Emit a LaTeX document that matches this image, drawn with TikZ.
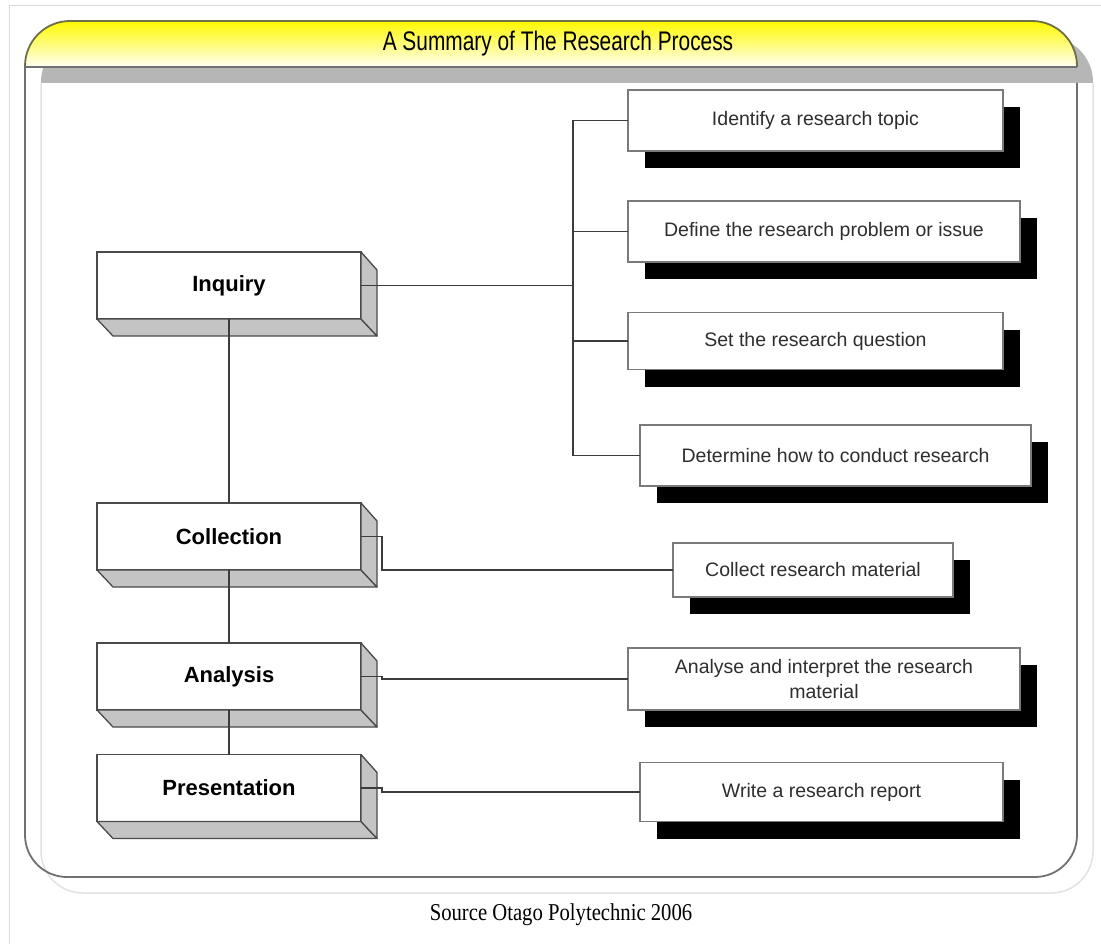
\documentclass[tikz,border=0pt]{standalone}
\usepackage{fontspec}
\setmainfont{Liberation Sans}
\newfontfamily\capfont{Liberation Serif}
\usetikzlibrary{shadows,calc}
\definecolor{boxline}{HTML}{4A4A4A}
\definecolor{facegrey}{HTML}{C4C4C4}
\definecolor{taskline}{HTML}{7A7A7A}
\definecolor{tasktext}{HTML}{2E2E2E}
\definecolor{conn}{HTML}{3C3C3C}
\definecolor{titleline}{HTML}{6E6E48}
\definecolor{bandgrey}{HTML}{B6B6B6}
\definecolor{panelline}{HTML}{707070}
\definecolor{panelshadow}{HTML}{E2E2E2}
\definecolor{frameline}{HTML}{DADADA}
\tikzset{
  stage/.style={draw=boxline, fill=white, line width=1.3, inner sep=0, outer sep=0,
    minimum width=264, minimum height=67, font=\bfseries\fontsize{22}{26}\selectfont},
  face/.style={fill=facegrey, draw=boxline, line width=1.3, line join=round},
  task/.style={draw=taskline, fill=white, line width=1.2, inner sep=0, outer sep=0,
    text=tasktext, align=center, font=\fontsize{19.5}{25}\selectfont,
    drop shadow={shadow xshift=17pt, shadow yshift=-17pt, opacity=1, fill=black}},
  link/.style={draw=conn, line width=1.4}
}
\newcommand\stagebox[3]{%
  \node[stage] (#1) at (#2) {#3};
  \path[face] (#1.south west) -- (#1.south east) -- ++(16,17) -- ($(#1.south west)+(16,17)$) -- cycle;
  \path[face] (#1.north east) -- ++(16,18) -- ($(#1.south east)+(16,17)$) -- (#1.south east) -- cycle;
}
\begin{document}
\begin{tikzpicture}[x=1pt,y=-1pt]
\useasboundingbox (0,0) rectangle (1101,944);
\fill[white] (0,0) rectangle (1101,944);
% outer frame
\draw[frameline, line width=1] (9,944) -- (9,6) -- (1101,6);
% panel shadow
\draw[panelshadow, line width=1.5, rounded corners=42] (41,83) -- (41,893) -- (1093,893) -- (1093,83);
% title shadow band
\fill[bandgrey, rounded corners=45] (41,83) -- (41,37) -- (1093,37) -- (1093,83);
% panel
\draw[panelline, line width=1.8, rounded corners=42] (25,67) -- (25,877) -- (1077,877) -- (1077,83);
% title bar
\shade[top color=yellow!92!orange!60!yellow, bottom color=yellow!4, rounded corners=45]
  (25,67) -- (25,21) -- (1077,21) -- (1077,67);
\draw[titleline, line width=1.8, rounded corners=45] (25,67) -- (25,21) -- (1077,21) -- (1077,67);
\draw[panelline, line width=2] (25,67) -- (1077,67);
\node[font=\fontsize{24}{28}\selectfont] (title) at (558,44) {\scalebox{0.87}[1.12]{A Summary of The Research Process}};

% left stages
\stagebox{inq}{229,285.5}{Inquiry}
\stagebox{colb}{229,536.5}{Collection}
\stagebox{anab}{229,676.5}{Analysis}
\stagebox{pres}{229,788}{Presentation}

% right tasks
\node[task, minimum width=375, minimum height=61] (t1) at (815.5,120.5) {Identify a research topic};
\node[task, minimum width=392, minimum height=61] (t2) at (824,231.5) {Define the research problem or issue};
\node[task, minimum width=375, minimum height=57] (t3) at (815.5,341) {Set the research question};
\node[task, minimum width=391, minimum height=61] (t4) at (835.5,455.5) {Determine how to conduct research};
\node[task, minimum width=280, minimum height=54] (t5) at (813,570) {Collect research material};
\node[task, minimum width=392, minimum height=62] (t6) at (824,679) {Analyse and interpret the research\\material};
\node[task, minimum width=363, minimum height=59] (t7) at (821.5,792) {Write a research report};

% connectors
\coordinate (trunk) at (573,0);
\draw[link] (t1.west) -- (t1.west -| trunk) -- (t4.west -| trunk) -- (t4.west);
\draw[link] (t2.west) -- (t2.west -| trunk);
\draw[link] (t3.west) -- (t3.west -| trunk);
\draw[link] (inq.east) -- (inq.east -| trunk);
\draw[link] (colb.east) -- ++(21,0) |- (t5.west);
\draw[link] (anab.east) -- ++(21,0) |- (t6.west);
\draw[link] (pres.east) -- ++(21,0) |- (t7.west);
\draw[link] (inq.south) -- (colb.north);
\draw[link] (colb.south) -- (anab.north);
\draw[link] (anab.south) -- (pres.north);

% caption
\node[font=\capfont\fontsize{22}{26}\selectfont] (cap) at (561,915) {\scalebox{0.94}[1.1]{Source Otago Polytechnic 2006}};
\end{tikzpicture}
\end{document}
